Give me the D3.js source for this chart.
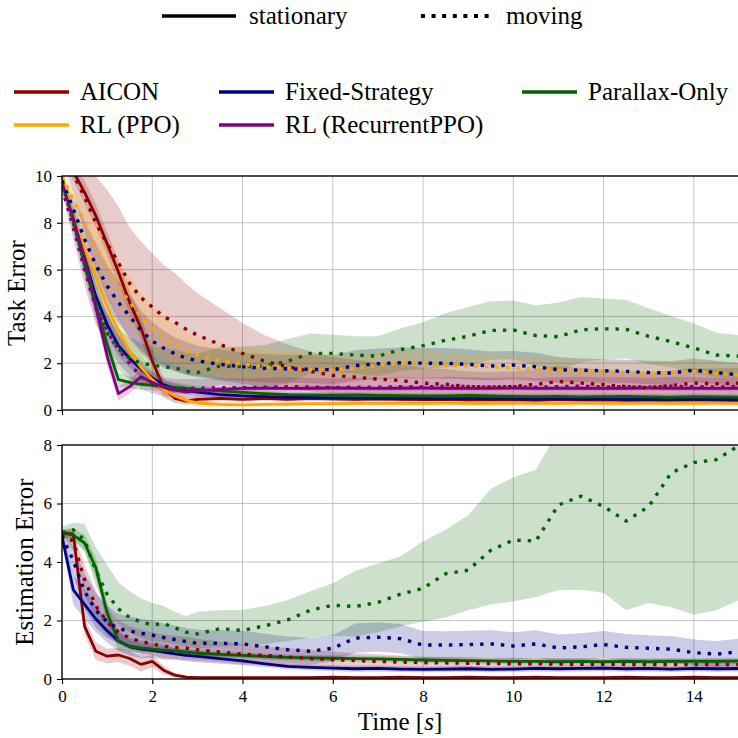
<!DOCTYPE html>
<html>
<head>
<meta charset="utf-8">
<script src="https://cdn.jsdelivr.net/npm/d3@7"></script>
<style>
  body { margin: 0; background: #fff; }
  svg text { font-family: "Liberation Serif", "Times New Roman", serif; }
</style>
</head>
<body>
<svg width="738" height="738" font-family="Liberation Serif, serif"></svg>
<script>
// ---- time grid (seconds) shared by every series ----
const T = [0, 0.25, 0.5, 0.75, 1, 1.25, 1.5, 1.75, 2, 2.25, 2.5, 2.75, 3, 3.5, 4, 4.5, 5, 5.5, 6, 6.5,
           7, 7.5, 8, 8.5, 9, 9.5, 10, 10.5, 11, 11.5, 12, 12.5, 13, 13.5, 14, 14.5, 15];

const xTicks = [0, 2, 4, 6, 8, 10, 12, 14];
const taskTicks = [0, 2, 4, 6, 8, 10];
const estTicks = [0, 2, 4, 6, 8];

const methods = ["AICON", "Fixed-Strategy", "Parallax-Only", "RL (PPO)", "RL (RecurrentPPO)"];
const colors = ["darkred", "navy", "darkgreen", "orange", "purple"];
const conditions = ["stationary", "moving"];

// ---- Task error: mean and spread ----
const taskAiconStat = [11.0, 10.2, 9.3, 8.3, 7.1, 5.9, 4.6, 3.5, 2.1, 0.95, 0.5, 0.38, 0.45, 0.5, 0.45, 0.5, 0.45, 0.5, 0.48, 0.45,
  0.48, 0.45, 0.44, 0.46, 0.43, 0.45, 0.44, 0.42, 0.45, 0.43, 0.44, 0.42, 0.43, 0.42, 0.44, 0.42, 0.41];
const taskAiconStatSd = [0.3, 0.4, 0.5, 0.5, 0.5, 0.5, 0.5, 0.5, 0.5, 0.4, 0.2, 0.15, 0.15, 0.12, 0.1, 0.1, 0.1, 0.1, 0.1, 0.1,
  0.1, 0.1, 0.1, 0.1, 0.1, 0.1, 0.1, 0.1, 0.1, 0.1, 0.1, 0.1, 0.1, 0.1, 0.1, 0.1, 0.1];
const taskAiconMov = [11.0, 10.1, 9.1, 8.0, 7.1, 6.3, 5.4, 4.8, 4.4, 4.0, 3.75, 3.45, 3.2, 2.8, 2.42, 2.08, 1.85, 1.65, 1.48, 1.4,
  1.32, 1.26, 1.15, 1.1, 1.0, 0.98, 1.0, 1.1, 1.22, 1.15, 1.08, 1.0, 0.95, 1.05, 1.15, 1.12, 1.15];
const taskAiconMovSd = [0.3, 0.8, 1.5, 2.0, 2.3, 2.4, 2.4, 2.4, 2.3, 2.2, 2.1, 1.95, 1.8, 1.55, 1.3, 1.1, 0.95, 0.85, 0.8, 0.75,
  0.7, 0.7, 0.65, 0.65, 0.65, 0.65, 0.65, 0.65, 0.65, 0.65, 0.65, 0.65, 0.65, 0.65, 0.65, 0.65, 0.65];

const taskFixedStat = [9.8, 8.3, 6.5, 4.86, 3.66, 2.75, 2.2, 1.75, 1.37, 1.07, 0.93, 0.83, 0.76, 0.66, 0.6, 0.57, 0.55, 0.54, 0.53, 0.52,
  0.51, 0.5, 0.5, 0.49, 0.5, 0.48, 0.48, 0.47, 0.48, 0.47, 0.47, 0.46, 0.46, 0.46, 0.45, 0.46, 0.45];
const taskFixedStatSd = [0.2, 0.4, 0.5, 0.5, 0.5, 0.45, 0.4, 0.35, 0.3, 0.25, 0.2, 0.18, 0.15, 0.14, 0.13, 0.12, 0.12, 0.12, 0.12, 0.12,
  0.12, 0.12, 0.12, 0.12, 0.12, 0.12, 0.12, 0.12, 0.12, 0.12, 0.12, 0.12, 0.12, 0.12, 0.12, 0.12, 0.12];
const taskFixedMov = [9.8, 8.6, 7.3, 6.2, 5.3, 4.6, 4.0, 3.4, 2.95, 2.65, 2.4, 2.22, 2.1, 1.95, 1.85, 1.78, 1.76, 1.74, 1.72, 1.9,
  1.98, 2.02, 2.0, 2.0, 1.95, 1.88, 1.92, 1.85, 1.72, 1.7, 1.68, 1.65, 1.6, 1.58, 1.7, 1.6, 1.5];
const taskFixedMovSd = [0.2, 0.5, 0.8, 0.9, 0.9, 0.9, 0.9, 0.85, 0.8, 0.75, 0.7, 0.7, 0.65, 0.65, 0.6, 0.6, 0.6, 0.6, 0.62, 0.65,
  0.65, 0.65, 0.65, 0.65, 0.65, 0.62, 0.6, 0.6, 0.55, 0.5, 0.5, 0.5, 0.5, 0.5, 0.5, 0.5, 0.5];

const taskParStat = [10.0, 8.1, 6.2, 4.5, 2.8, 1.3, 1.18, 1.1, 1.05, 1.0, 0.97, 0.92, 0.88, 0.82, 0.75, 0.7, 0.66, 0.65, 0.63, 0.64,
  0.62, 0.61, 0.6, 0.6, 0.62, 0.6, 0.58, 0.57, 0.58, 0.56, 0.57, 0.58, 0.56, 0.55, 0.57, 0.56, 0.55];
const taskParStatSd = [0.2, 0.3, 0.4, 0.4, 0.35, 0.3, 0.25, 0.25, 0.2, 0.2, 0.2, 0.18, 0.15, 0.15, 0.12, 0.12, 0.12, 0.12, 0.12, 0.12,
  0.12, 0.12, 0.12, 0.12, 0.12, 0.12, 0.12, 0.12, 0.12, 0.12, 0.12, 0.12, 0.12, 0.12, 0.12, 0.12, 0.12];
const taskParMov = [9.7, 8.0, 6.3, 4.6, 3.3, 2.6, 2.2, 2.0, 1.92, 1.85, 1.8, 1.65, 1.6, 1.88, 1.85, 1.88, 2.08, 2.42, 2.42, 2.35,
  2.3, 2.58, 2.75, 2.98, 3.15, 3.4, 3.42, 3.18, 3.13, 3.43, 3.47, 3.45, 3.15, 2.92, 2.65, 2.35, 2.3];
const taskParMovSd = [0.2, 0.4, 0.6, 0.8, 0.9, 0.9, 0.9, 0.85, 0.8, 0.8, 0.8, 0.8, 0.8, 0.8, 0.85, 0.9, 0.95, 0.85, 0.8, 0.8,
  0.85, 0.9, 1.0, 1.15, 1.25, 1.25, 1.25, 1.3, 1.45, 1.4, 1.3, 1.25, 1.2, 1.1, 1.05, 0.95, 0.9];

const taskPpoStat = [10.0, 8.3, 6.9, 5.7, 4.4, 3.4, 2.5, 1.82, 1.3, 0.88, 0.6, 0.42, 0.3, 0.24, 0.22, 0.24, 0.25, 0.27, 0.27, 0.28,
  0.28, 0.28, 0.28, 0.29, 0.28, 0.28, 0.29, 0.28, 0.28, 0.29, 0.28, 0.28, 0.29, 0.28, 0.28, 0.29, 0.28];
const taskPpoStatSd = [0.2, 0.4, 0.5, 0.6, 0.6, 0.6, 0.55, 0.5, 0.45, 0.35, 0.25, 0.2, 0.15, 0.12, 0.1, 0.1, 0.1, 0.1, 0.1, 0.1,
  0.1, 0.1, 0.1, 0.1, 0.1, 0.1, 0.1, 0.1, 0.1, 0.1, 0.1, 0.1, 0.1, 0.1, 0.1, 0.1, 0.1];
const taskPpoMov = [10.0, 9.0, 8.0, 7.0, 6.1, 5.3, 4.6, 4.0, 3.5, 3.1, 2.8, 2.55, 2.35, 2.1, 1.95, 1.85, 1.78, 1.72, 1.7, 1.78,
  1.9, 1.98, 1.95, 1.9, 1.88, 1.85, 1.8, 1.75, 1.7, 1.65, 1.6, 1.6, 1.55, 1.6, 1.65, 1.55, 1.5];
const taskPpoMovSd = [0.2, 0.5, 0.8, 1.0, 1.1, 1.1, 1.1, 1.0, 0.95, 0.9, 0.85, 0.8, 0.75, 0.7, 0.7, 0.7, 0.7, 0.7, 0.65, 0.6,
  0.6, 0.6, 0.6, 0.55, 0.55, 0.55, 0.55, 0.55, 0.55, 0.55, 0.5, 0.5, 0.5, 0.5, 0.5, 0.5, 0.5];

const taskRppoStat = [9.7, 8.2, 6.5, 4.4, 2.3, 0.7, 1.0, 1.42, 1.18, 0.97, 0.85, 0.78, 0.82, 0.88, 0.92, 0.93, 0.92, 0.93, 0.94, 0.93,
  0.92, 0.93, 0.94, 0.93, 0.92, 0.93, 0.94, 0.92, 0.93, 0.93, 0.92, 0.93, 0.94, 0.93, 0.93, 0.92, 0.93];
const taskRppoStatSd = [0.2, 0.3, 0.4, 0.4, 0.4, 0.3, 0.3, 0.3, 0.2, 0.15, 0.12, 0.1, 0.1, 0.1, 0.1, 0.1, 0.1, 0.1, 0.1, 0.1,
  0.1, 0.1, 0.1, 0.1, 0.1, 0.1, 0.1, 0.1, 0.1, 0.1, 0.1, 0.1, 0.1, 0.1, 0.1, 0.1, 0.1];
const taskRppoMov = [9.5, 7.8, 6.0, 4.35, 3.4, 2.6, 2.0, 1.4, 1.15, 1.0, 0.93, 0.92, 0.93, 0.95, 0.95, 0.97, 1.0, 0.98, 0.96, 0.98,
  0.97, 1.0, 0.98, 1.02, 1.0, 0.98, 1.0, 0.97, 1.0, 1.02, 0.98, 1.0, 0.97, 1.02, 1.0, 0.98, 1.0];
const taskRppoMovSd = [0.2, 0.5, 0.7, 0.7, 0.7, 0.6, 0.55, 0.5, 0.45, 0.4, 0.4, 0.4, 0.4, 0.4, 0.4, 0.4, 0.4, 0.4, 0.4, 0.4,
  0.4, 0.4, 0.4, 0.4, 0.4, 0.4, 0.4, 0.4, 0.4, 0.4, 0.4, 0.4, 0.4, 0.4, 0.4, 0.4, 0.4];

// ---- Estimation error ----
const estAiconStat = [5.0, 4.95, 1.8, 0.95, 0.78, 0.82, 0.7, 0.5, 0.6, 0.3, 0.13, 0.06, 0.05, 0.05, 0.05, 0.05, 0.05, 0.05, 0.06, 0.05,
  0.05, 0.06, 0.05, 0.05, 0.06, 0.05, 0.05, 0.06, 0.05, 0.05, 0.05, 0.06, 0.05, 0.05, 0.06, 0.05, 0.05];
const estAiconStatSd = [0.1, 0.2, 0.3, 0.3, 0.25, 0.25, 0.25, 0.25, 0.2, 0.15, 0.08, 0.05, 0.04, 0.04, 0.04, 0.04, 0.04, 0.04, 0.04, 0.04,
  0.04, 0.04, 0.04, 0.04, 0.04, 0.04, 0.04, 0.04, 0.04, 0.04, 0.04, 0.04, 0.04, 0.04, 0.04, 0.04, 0.04];
const estAiconMov = [5.0, 4.7, 3.4, 2.5, 1.95, 1.6, 1.4, 1.28, 1.2, 1.12, 1.08, 1.05, 1.0, 0.92, 0.85, 0.8, 0.75, 0.7, 0.66, 0.63,
  0.6, 0.58, 0.56, 0.55, 0.54, 0.53, 0.52, 0.52, 0.51, 0.5, 0.5, 0.5, 0.49, 0.5, 0.49, 0.5, 0.49];
const estAiconMovSd = [0.1, 0.3, 0.5, 0.5, 0.45, 0.4, 0.4, 0.4, 0.4, 0.4, 0.4, 0.4, 0.38, 0.35, 0.35, 0.32, 0.3, 0.3, 0.28, 0.25,
  0.25, 0.22, 0.2, 0.2, 0.2, 0.2, 0.2, 0.2, 0.2, 0.2, 0.2, 0.2, 0.2, 0.2, 0.2, 0.2, 0.2];

const estFixedStat = [4.87, 3.05, 2.55, 2.05, 1.65, 1.3, 1.1, 1.02, 0.98, 0.92, 0.86, 0.81, 0.77, 0.7, 0.62, 0.52, 0.43, 0.4, 0.37, 0.35,
  0.36, 0.34, 0.33, 0.34, 0.35, 0.33, 0.34, 0.36, 0.35, 0.36, 0.37, 0.35, 0.36, 0.34, 0.36, 0.35, 0.36];
const estFixedStatSd = [0.2, 0.5, 0.5, 0.45, 0.4, 0.35, 0.3, 0.3, 0.25, 0.25, 0.2, 0.2, 0.2, 0.18, 0.15, 0.12, 0.1, 0.1, 0.1, 0.1,
  0.1, 0.1, 0.1, 0.1, 0.1, 0.1, 0.1, 0.1, 0.1, 0.1, 0.1, 0.1, 0.1, 0.1, 0.1, 0.1, 0.1];
const estFixedMov = [4.9, 4.05, 3.0, 2.35, 1.95, 1.72, 1.64, 1.56, 1.5, 1.42, 1.35, 1.28, 1.22, 1.22, 1.2, 1.1, 1.0, 0.95, 1.05, 1.4,
  1.43, 1.38, 1.16, 1.16, 1.18, 1.2, 1.13, 1.2, 1.06, 1.1, 1.18, 1.08, 1.05, 1.02, 0.9, 0.85, 0.93];
const estFixedMovSd = [0.2, 0.5, 0.6, 0.6, 0.55, 0.5, 0.5, 0.5, 0.5, 0.48, 0.48, 0.46, 0.46, 0.45, 0.45, 0.45, 0.45, 0.45, 0.45, 0.5,
  0.5, 0.5, 0.48, 0.47, 0.47, 0.47, 0.47, 0.47, 0.46, 0.46, 0.46, 0.46, 0.45, 0.45, 0.45, 0.45, 0.45];

const estParStat = [5.0, 4.92, 4.65, 3.8, 2.26, 1.3, 1.12, 1.06, 1.02, 0.99, 0.96, 0.92, 0.88, 0.84, 0.81, 0.77, 0.74, 0.72, 0.71, 0.7,
  0.69, 0.67, 0.65, 0.64, 0.63, 0.62, 0.6, 0.6, 0.59, 0.6, 0.59, 0.6, 0.59, 0.6, 0.6, 0.6, 0.61];
const estParStatSd = [0.1, 0.2, 0.3, 0.35, 0.35, 0.3, 0.2, 0.15, 0.12, 0.1, 0.1, 0.1, 0.1, 0.1, 0.1, 0.1, 0.1, 0.1, 0.1, 0.1,
  0.1, 0.1, 0.1, 0.1, 0.1, 0.1, 0.1, 0.1, 0.1, 0.1, 0.1, 0.1, 0.1, 0.1, 0.1, 0.1, 0.1];
const estParMov = [5.0, 5.1, 4.75, 3.7, 2.9, 2.4, 2.1, 1.95, 1.85, 1.9, 1.75, 1.6, 1.54, 1.72, 1.66, 1.82, 2.02, 2.35, 2.52, 2.48,
  2.62, 2.9, 3.1, 3.6, 3.72, 4.4, 4.75, 4.72, 5.95, 6.25, 5.9, 5.4, 5.9, 7.05, 7.4, 7.5, 7.98];
const estParMovLo = [4.8, 4.8, 4.4, 3.2, 2.4, 1.9, 1.6, 1.4, 1.3, 1.25, 1.2, 1.1, 1.05, 1.1, 1.15, 1.2, 1.3, 1.42, 1.48, 1.45,
  1.6, 1.8, 1.96, 2.1, 2.35, 2.55, 2.65, 2.8, 3.04, 3.05, 2.95, 2.35, 2.6, 2.45, 2.2, 2.35, 2.7];
const estParMovHi = [5.2, 5.35, 5.3, 4.5, 3.9, 3.3, 3.0, 2.75, 2.6, 2.5, 2.3, 2.15, 2.3, 2.35, 2.36, 2.5, 2.7, 3.0, 3.27, 3.7,
  3.95, 4.2, 4.7, 5.1, 5.6, 6.5, 6.9, 7.15, 8.5, 9, 9, 9, 9, 9, 9, 9, 9];

// ---- series tables built from the arrays ----
const taskSeries = [
  { m: 0, dash: false, mean: taskAiconStat, sd: taskAiconStatSd },
  { m: 1, dash: false, mean: taskFixedStat, sd: taskFixedStatSd },
  { m: 2, dash: false, mean: taskParStat, sd: taskParStatSd },
  { m: 3, dash: false, mean: taskPpoStat, sd: taskPpoStatSd },
  { m: 4, dash: false, mean: taskRppoStat, sd: taskRppoStatSd },
  { m: 0, dash: true, mean: taskAiconMov, sd: taskAiconMovSd },
  { m: 1, dash: true, mean: taskFixedMov, sd: taskFixedMovSd },
  { m: 2, dash: true, mean: taskParMov, sd: taskParMovSd },
  { m: 3, dash: true, mean: taskPpoMov, sd: taskPpoMovSd },
  { m: 4, dash: true, mean: taskRppoMov, sd: taskRppoMovSd }
];
const estSeries = [
  { m: 0, dash: false, mean: estAiconStat, sd: estAiconStatSd },
  { m: 1, dash: false, mean: estFixedStat, sd: estFixedStatSd },
  { m: 2, dash: false, mean: estParStat, sd: estParStatSd },
  { m: 0, dash: true, mean: estAiconMov, sd: estAiconMovSd },
  { m: 1, dash: true, mean: estFixedMov, sd: estFixedMovSd },
  { m: 2, dash: true, mean: estParMov, lo: estParMovLo, hi: estParMovHi }
];

const FONT = "'Liberation Serif', 'Times New Roman', serif";
const svg = d3.select("svg");
const plotLeft = 62, plotRight = 739;
const gridColor = "#c4c4c4";
const x = d3.scaleLinear().domain([0, 15]).range([plotLeft, plotRight]);

function rows(s) {
  return T.map((t, i) => ({
    t: t,
    m: s.mean[i],
    lo: s.lo ? s.lo[i] : Math.max(0, s.mean[i] - s.sd[i]),
    hi: s.hi ? s.hi[i] : s.mean[i] + s.sd[i]
  }));
}

function drawPanel(id, top, bottom, yMax, yTicks, series, xLabels) {
  const y = d3.scaleLinear().domain([0, yMax]).range([bottom, top]);
  const g = svg.append("g");

  g.append("clipPath").attr("id", id)
    .append("rect")
    .attr("x", plotLeft).attr("y", top)
    .attr("width", plotRight - plotLeft).attr("height", bottom - top);

  // grid
  const grid = g.append("g").attr("stroke", gridColor).attr("stroke-width", 1);
  grid.selectAll(".gx").data(xTicks).join("line")
    .attr("x1", d => x(d)).attr("x2", d => x(d))
    .attr("y1", top).attr("y2", bottom);
  grid.selectAll(".gy").data(yTicks).join("line")
    .attr("x1", plotLeft).attr("x2", plotRight)
    .attr("y1", d => y(d)).attr("y2", d => y(d));

  const body = g.append("g").attr("clip-path", `url(#${id})`);

  const area = d3.area().x(d => x(d.t)).y0(d => y(d.lo)).y1(d => y(d.hi));
  const line = d3.line().x(d => x(d.t)).y(d => y(d.m));

  // bands under all lines
  series.forEach(s => {
    body.append("path")
      .datum(rows(s))
      .attr("d", area)
      .attr("fill", colors[s.m])
      .attr("fill-opacity", 0.2)
      .attr("stroke", "none");
  });

  series.forEach(s => {
    body.append("path")
      .datum(rows(s))
      .attr("d", line)
      .attr("fill", "none")
      .attr("stroke", colors[s.m])
      .attr("stroke-width", s.dash ? 3.4 : 2.8)
      .attr("stroke-dasharray", s.dash ? "3.4,7" : null)
      .attr("stroke-linejoin", "round");
  });

  // frame
  g.append("rect")
    .attr("x", plotLeft).attr("y", top)
    .attr("width", plotRight - plotLeft).attr("height", bottom - top)
    .attr("fill", "none").attr("stroke", "#000").attr("stroke-width", 1.3);

  // axes
  const ay = g.append("g")
    .attr("transform", `translate(${plotLeft},0)`)
    .call(d3.axisLeft(y).tickValues(yTicks).tickSize(5).tickPadding(5).tickFormat(d3.format("d")));
  const ax = g.append("g")
    .attr("transform", `translate(0,${bottom})`)
    .call(d3.axisBottom(x).tickValues(xTicks).tickSize(5).tickPadding(6)
      .tickFormat(xLabels ? d3.format("d") : () => ""));
  [ay, ax].forEach(a => {
    a.attr("font-family", FONT);
    a.select(".domain").remove();
    a.selectAll("line").attr("stroke", "#000").attr("stroke-width", 1.1);
    a.selectAll("text")
      .style("font-family", FONT)
      .attr("font-size", 17)
      .attr("fill", "#000");
  });
  return y;
}

drawPanel("clipTask", 176, 410, 10, taskTicks, taskSeries, false);
drawPanel("clipEst", 445, 679, 8, estTicks, estSeries, true);

// axis titles
svg.append("text")
  .attr("transform", "translate(25,293) rotate(-90)")
  .attr("text-anchor", "middle")
  .style("font-family", FONT)
  .attr("font-size", 25)
  .text("Task Error");
svg.append("text")
  .attr("transform", "translate(33,562) rotate(-90)")
  .attr("text-anchor", "middle")
  .style("font-family", FONT)
  .attr("font-size", 25)
  .text("Estimation Error");
const xt = svg.append("text")
  .attr("x", 400).attr("y", 730)
  .attr("text-anchor", "middle")
  .style("font-family", FONT)
  .attr("font-size", 25);
xt.append("tspan").text("Time [");
xt.append("tspan").attr("font-style", "italic").text("s");
xt.append("tspan").text("]");

// ---- legends ----
const condLegend = [
  { label: conditions[0], dash: false, x0: 162, x1: 236, tx: 249 },
  { label: conditions[1], dash: true, x0: 421, x1: 494, tx: 506 }
];
condLegend.forEach(d => {
  svg.append("line")
    .attr("x1", d.x0).attr("x2", d.x1).attr("y1", 16).attr("y2", 16)
    .attr("stroke", "#000").attr("stroke-width", d.dash ? 4 : 3.6)
    .attr("stroke-dasharray", d.dash ? "4,6.6" : null);
  svg.append("text")
    .attr("x", d.tx).attr("y", 24)
    .style("font-family", FONT)
    .attr("font-size", 25)
    .text(d.label);
});

const methodPos = [
  { col: 0, row: 0 }, { col: 1, row: 0 }, { col: 2, row: 0 },
  { col: 0, row: 1 }, { col: 1, row: 1 }
];
const colX = [14, 219, 522];
const rowY = [92, 125];
methods.forEach((name, i) => {
  const p = methodPos[i];
  const lx = colX[p.col], ly = rowY[p.row];
  svg.append("line")
    .attr("x1", lx).attr("x2", lx + 55).attr("y1", ly).attr("y2", ly)
    .attr("stroke", colors[i]).attr("stroke-width", 3.6);
  svg.append("text")
    .attr("x", lx + 66).attr("y", ly + 8)
    .style("font-family", FONT)
    .attr("font-size", 25)
    .text(name);
});
</script>
</body>
</html>
